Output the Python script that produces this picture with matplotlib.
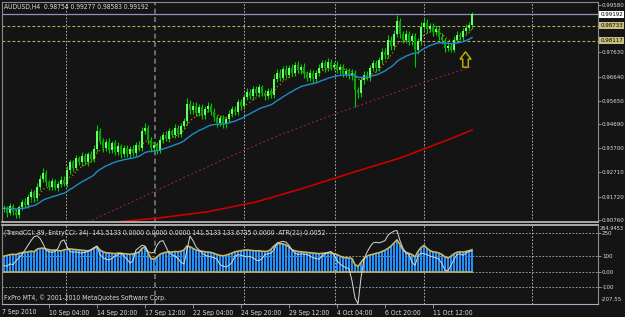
import numpy as np
import pandas as pd
import matplotlib
matplotlib.use("Agg")
import matplotlib.pyplot as plt
from matplotlib import font_manager as fm
from matplotlib.path import Path
from matplotlib.transforms import blended_transform_factory

# MT4 uses a small narrow font; pick the narrowest one we have
_fonts = fm.fontManager.ttflist
if any(f.name == 'Liberation Sans Narrow' for f in _fonts):
    FONT, STRETCH, FS = 'Liberation Sans Narrow', 'normal', 5.6
elif any(f.name == 'DejaVu Sans' and f.stretch == 'condensed' for f in _fonts):
    FONT, STRETCH, FS = 'DejaVu Sans', 'condensed', 4.9
else:
    FONT, STRETCH, FS = 'Liberation Sans', 'normal', 4.6
plt.rcParams['font.family'] = [FONT, 'DejaVu Sans']
plt.rcParams['font.stretch'] = STRETCH
FS_R = FS * 0.9   # right-hand price scale, a bit tighter so it fits

# ---- data (AUDUSD H4) ----
first_open = 0.9120
closes = [
    0.9125, 0.9105, 0.9132, 0.9110, 0.9098, 0.9128, 0.9150, 0.9138, 0.9172, 0.9190,
    0.9165, 0.9210, 0.9245, 0.9268, 0.9230, 0.9212, 0.9235, 0.9208, 0.9225, 0.9242,
    0.9225, 0.9280, 0.9312, 0.9290, 0.9330, 0.9315, 0.9340, 0.9312, 0.9345, 0.9325,
    0.9368, 0.9440, 0.9400, 0.9372, 0.9395, 0.9362, 0.9390, 0.9355, 0.9380, 0.9348,
    0.9370, 0.9345, 0.9368, 0.9350, 0.9385, 0.9372, 0.9440, 0.9452, 0.9405, 0.9370,
    0.9385, 0.9360, 0.9405, 0.9425, 0.9410, 0.9440, 0.9425, 0.9455, 0.9430, 0.9462,
    0.9480, 0.9552, 0.9525, 0.9545, 0.9515, 0.9540, 0.9505, 0.9530, 0.9545, 0.9520,
    0.9498, 0.9475, 0.9495, 0.9468, 0.9490, 0.9510, 0.9530, 0.9518, 0.9560, 0.9545,
    0.9580, 0.9600, 0.9585, 0.9612, 0.9595, 0.9620, 0.9598, 0.9585, 0.9605, 0.9590,
    0.9655, 0.9680, 0.9660, 0.9695, 0.9672, 0.9700, 0.9680, 0.9710, 0.9690, 0.9705,
    0.9675, 0.9660, 0.9680, 0.9655, 0.9678, 0.9700, 0.9718, 0.9698, 0.9725, 0.9705,
    0.9712, 0.9690, 0.9705, 0.9675, 0.9688, 0.9665, 0.9680, 0.9610, 0.9595, 0.9648,
    0.9672, 0.9660, 0.9700, 0.9720, 0.9698, 0.9730, 0.9765, 0.9752, 0.9815, 0.9790,
    0.9840, 0.9890, 0.9838, 0.9815, 0.9840, 0.9808, 0.9830, 0.9772, 0.9808, 0.9868,
    0.9885, 0.9858, 0.9872, 0.9845, 0.9860, 0.9828, 0.9812, 0.9780, 0.9790, 0.9775,
    0.9815, 0.9835, 0.9825, 0.9852, 0.9865, 0.98754, 0.99192,
]
# wick lengths in pips above / below the body
upper_wick = [
    12, 9, 14, 10, 13, 9, 12, 15, 10, 13,
    9, 16, 14, 20, 12, 9, 13, 10, 12, 15,
    13, 16, 12, 10, 14, 9, 13, 12, 10, 14,
    16, 25, 14, 12, 13, 16, 10, 12, 14, 9,
    12, 13, 10, 14, 12, 13, 16, 20, 14, 12,
    13, 10, 14, 12, 16, 13, 10, 14, 12, 13,
    16, 25, 14, 13, 16, 12, 10, 14, 13, 12,
    14, 10, 13, 12, 14, 16, 13, 14, 12, 13,
    14, 16, 13, 12, 14, 13, 10, 12, 14, 13,
    18, 16, 14, 13, 16, 12, 14, 13, 16, 12,
    13, 10, 14, 12, 13, 16, 14, 13, 16, 12,
    13, 14, 12, 10, 13, 12, 14, 10, 13, 16,
    14, 16, 13, 14, 12, 16, 18, 16, 18, 14,
    16, 28, 14, 13, 16, 12, 14, 13, 16, 18,
    18, 14, 13, 12, 14, 10, 13, 12, 14, 13,
    16, 14, 13, 12, 16, 14, 8.5,
]
lower_wick = [
    13, 16, 10, 14, 12, 13, 10, 9, 12, 13,
    14, 12, 10, 13, 16, 12, 14, 10, 13, 12,
    10, 13, 14, 12, 10, 13, 16, 12, 13, 10,
    12, 13, 14, 16, 12, 10, 13, 14, 12, 16,
    14, 12, 13, 10, 12, 14, 13, 12, 16, 14,
    16, 12, 10, 13, 12, 14, 10, 12, 13, 14,
    12, 14, 13, 16, 12, 14, 16, 13, 12, 14,
    16, 18, 14, 13, 16, 12, 13, 10, 12, 14,
    13, 12, 14, 16, 12, 13, 14, 16, 13, 12,
    13, 14, 16, 12, 13, 14, 12, 13, 10, 14,
    16, 14, 13, 16, 12, 13, 10, 14, 12, 13,
    14, 12, 16, 13, 14, 12, 16, 70, 18, 14,
    13, 12, 14, 13, 16, 12, 13, 14, 12, 16,
    13, 14, 16, 14, 13, 16, 14, 70, 16, 13,
    14, 16, 13, 14, 12, 16, 14, 16, 13, 10,
    12, 14, 13, 16, 12, 14, 17.1,
]
# slow moving averages, read at a few bars
ma_dot_bars = [28, 44, 60, 76, 92, 108, 124, 140, 156]
ma_dot_vals = [0.9068, 0.9158, 0.9250, 0.9340, 0.9425, 0.9500, 0.9570, 0.9640, 0.9705]
ma_red_bars = [36, 52, 68, 84, 100, 116, 132, 148, 156]
ma_red_vals = [0.9066, 0.9085, 0.9110, 0.9150, 0.9207, 0.9270, 0.9330, 0.9405, 0.9445]

trend_cci = [
    100, 104, 110, 112, 110, 118, 122, 125, 128, 132,
    128, 145, 150, 152, 146, 142, 138, 140, 136, 134,
    140, 145, 146, 144, 142, 140, 138, 136, 134, 140,
    150, 162, 140, 128, 122, 120, 118, 116, 120, 118,
    116, 114, 112, 115, 120, 126, 150, 160, 120, 85,
    80, 95, 112, 120, 125, 128, 126, 130, 128, 132,
    140, 165, 160, 150, 140, 135, 132, 128, 126, 124,
    118, 110, 105, 102, 106, 112, 120, 128, 132, 135,
    138, 140, 138, 136, 134, 135, 132, 130, 132, 145,
    165, 180, 182, 178, 172, 160, 140, 135, 130, 128,
    126, 124, 122, 120, 118, 116, 118, 120, 122, 120,
    115, 110, 100, 92, 90, 88, 85, 45, 34, 60,
    85, 100, 108, 112, 118, 122, 130, 138, 150, 165,
    185, 205, 175, 140, 125, 118, 110, 95, 130, 155,
    170, 150, 135, 128, 125, 120, 110, 95, 88, 100,
    115, 125, 128, 126, 130, 135, 141.5133,
]
entry_cci = [
    40, 35, 50, 45, 70, 90, 110, 140, 170, 200,
    225, 232, 215, 180, 140, 128, 125, 130, 150, 195,
    205, 160, 130, 125, 128, 122, 120, 125, 130, 140,
    155, 165, 110, 90, 80, 75, 85, 100, 110, 120,
    100, 80, 55, 70, 140, 155, 170, 165, 130, 120,
    125, 170, 195, 200, 160, 120, 110, 100, 85, 60,
    50, 140, 230, 200, 160, 140, 120, 105, 100, 95,
    90, 80, 45, 35, 30, 40, 60, 100, 110, 105,
    100, 95, 98, 90, 75, 70, 85, 110, 115, 120,
    140, 185, 190, 195, 190, 170, 140, 120, 110, 115,
    112, 110, 100, 90, 85, 80, 100, 115, 125, 130,
    110, 70, 50, 35, 25, 20, -60, -170, -207.55, -40,
    80, 125, 160, 185, 190, 185, 192, 200, 235, 250,
    262, 264.9453, 200, 150, 120, 110, 60, 40, 100, 120,
    115, 110, 100, 95, 90, 80, 50, 10, 5, 40,
    80, 110, 115, 105, 120, 130, 133.6735,
]

price_ticks = [0.99580, 0.97630, 0.96640, 0.95650, 0.94690, 0.93700, 0.92710, 0.91720, 0.90760]
bid = 0.99192
levels_yellow = [0.98733, 0.98117]
cci_levels = [250, 100, 0, -100]
cci_max, cci_min = 264.9453, -207.55

grid_bars = [20.7, 50.3, 80, 110.3, 140, 176]
date_bars = [15, 31, 47, 63, 79, 95, 111, 127, 143]
date_labels = ['10 Sep 04:00', '14 Sep 20:00', '17 Sep 12:00', '22 Sep 04:00',
               '24 Sep 20:00', '29 Sep 12:00', '4 Oct 04:00', '6 Oct 20:00', '11 Oct 12:00']
arrow_bar, arrow_price = 153.5, 0.9738

# ---- style ----
W, H = 625, 317
BG = '#141414'
TXT = '#dcdcdc'
BULL, BEAR, WICK = '#66ff66', '#00a800', '#00cc00'

fig = plt.figure(figsize=(W / 100, H / 100), dpi=100, facecolor=BG)


def px_axes(l, t, r, b):
    a = fig.add_axes([l / W, 1 - b / H, (r - l) / W, (b - t) / H], facecolor=BG)
    for s in a.spines.values():
        s.set_color('#8c8c8c')
        s.set_linewidth(0.8)
    return a


ax = px_axes(2, 2, 598, 222)
ax2 = px_axes(2, 225, 598, 304)
for a in (ax, ax2):
    a.set_xlim(-0.667, 198)
ax.set_ylim(0.90678, 0.99698)
ax2.set_ylim(-209, 301)
ax.spines['bottom'].set_color('#b4b4b4')
ax.spines['bottom'].set_linewidth(1.3)
ax2.spines['top'].set_color('#b4b4b4')
ax2.spines['top'].set_linewidth(1.3)
ax2.spines['bottom'].set_color('#a8aec8')

# grid
for k, g in enumerate(grid_bars):
    for a in (ax, ax2):
        if k == 1:
            a.axvline(g, color='#7a7a7a', lw=1.2, ls=(0, (3, 2)), zorder=1)
        else:
            a.axvline(g, color='#c8c8c8', lw=0.6, ls=(0, (2, 2)), zorder=1)

# main panel
c = np.array(closes)
o = np.array([first_open] + closes[:-1])
x = np.arange(len(c))
hi = np.maximum(o, c) + np.array(upper_wick) * 1e-4
lo = np.minimum(o, c) - np.array(lower_wick) * 1e-4

ax.axhline(bid, color='#8a96b4', lw=0.9, zorder=2)
for lv in levels_yellow:
    ax.axhline(lv, color='#b4b45a', lw=0.8, ls=(0, (2.5, 2)), zorder=2)

ma_fast = pd.Series(c).ewm(span=26, adjust=False).mean()
ma_short = pd.Series(c).ewm(span=8, adjust=False).mean()
ax.plot(x, ma_short, color='#c87800', lw=0.9, ls=(0, (1, 2)), zorder=2)
ax.plot(ma_dot_bars, ma_dot_vals, color='#8c1e50', lw=0.9, ls=(0, (1.5, 2)), zorder=2)
ax.plot(ma_red_bars, ma_red_vals, color='#c80000', lw=1.2, zorder=2)

ax.vlines(x, lo, hi, color=WICK, lw=0.8, zorder=3)
up = c >= o
body = np.maximum(np.abs(c - o), 0.00012)
ax.bar(x, body, bottom=np.minimum(o, c), width=0.7, color=np.where(up, BULL, BEAR),
       linewidth=0, zorder=4)
ax.plot(x, ma_fast, color='#1e8cc8', lw=1.0, zorder=5)

# hollow up arrow
arrow = Path([(-0.72, 0.05), (0, 1), (0.72, 0.05), (0.36, 0.05), (0.36, -1),
              (-0.36, -1), (-0.36, 0.05), (-0.72, 0.05)])
ax.plot([arrow_bar], [arrow_price], marker=arrow, ms=11, mfc='none', mec='#c8b400',
        mew=1.0, zorder=6)

ax.set_xticks([])
ax.yaxis.tick_right()
ax.set_yticks(price_ticks)
ax.set_yticklabels([f'{p:.5f}' for p in price_ticks])
ax.tick_params(axis='y', length=2, width=0.6, color='#a0a0a0', labelcolor=TXT,
               labelsize=FS_R, pad=0.8)

tr = blended_transform_factory(ax.transAxes, ax.transData)
ax.text(1.004, bid, f'{bid:.5f}', transform=tr, fontsize=FS_R, color='black', va='center',
        ha='left', clip_on=False, bbox=dict(boxstyle='square,pad=0.2', fc='white', ec='none'))
for lv in levels_yellow:
    ax.text(1.004, lv, f'{lv:.5f}', transform=tr, fontsize=FS_R, color='black', va='center',
            ha='left', clip_on=False,
            bbox=dict(boxstyle='square,pad=0.2', fc='#c8c07c', ec='none'))

ax.text(0.004, 0.975, 'AUDUSD,H4  0.98754 0.99277 0.98583 0.99192', transform=ax.transAxes,
        fontsize=FS, color=TXT, va='center', ha='left')

# indicator panel
for lv in cci_levels:
    ax2.axhline(lv, color='#b4b4b4', lw=0.6, ls=(0, (2, 2)), zorder=1)
ax2.bar(x, trend_cci, width=0.68, color='#1e90ff', linewidth=0, zorder=2)
ax2.plot(x, np.zeros(len(x)), color='#c8b464', lw=1.2, zorder=3)
ax2.plot(x, trend_cci, color='#c8b464', lw=1.2, zorder=3)
ax2.plot(x, entry_cci, color='#d8d8d8', lw=0.7, zorder=4)

ax2.yaxis.tick_right()
ax2.set_yticks(cci_levels)
ax2.set_yticklabels(['250', '100', '0.00', '-100'])
ax2.tick_params(axis='y', length=2, width=0.6, color='#a0a0a0', labelcolor=TXT,
                labelsize=FS_R, pad=0.8)
tr2 = blended_transform_factory(ax2.transAxes, ax2.transData)
ax2.text(1.002, cci_max + 14, f'{cci_max:.4f}', transform=tr2, fontsize=FS_R * 0.92,
         color=TXT, va='center', ha='left', clip_on=False)
ax2.text(1.004, cci_min + 28, f'{cci_min:.2f}', transform=tr2, fontsize=FS_R, color=TXT,
         va='center', ha='left', clip_on=False)

ax2.set_xticks(date_bars)
ax2.set_xticklabels(date_labels, ha='left')
ax2.tick_params(axis='x', length=3, width=0.6, color='#a0a0a0', labelcolor=TXT,
                labelsize=FS, pad=1.5)
ax2.text(0.0, -0.06, '7 Sep 2010', transform=ax2.transAxes, fontsize=FS, color=TXT,
         va='top', ha='left', clip_on=False)

ax2.text(0.004, 0.9, '(TrendCCI: 89, EntryCCI: 34)  141.5133 0.0000 0.0000 0.0000 141.5133 '
         '133.6735 0.0000  ATR(21) 0.0052', transform=ax2.transAxes, fontsize=FS, color=TXT,
         va='center', ha='left')
ax2.text(0.004, 0.08, 'FxPro MT4, \u00a9 2001-2010 MetaQuotes Software Corp.',
         transform=ax2.transAxes, fontsize=FS, color=TXT, va='center', ha='left')

fig.savefig('out.png', dpi=100, facecolor=BG)
